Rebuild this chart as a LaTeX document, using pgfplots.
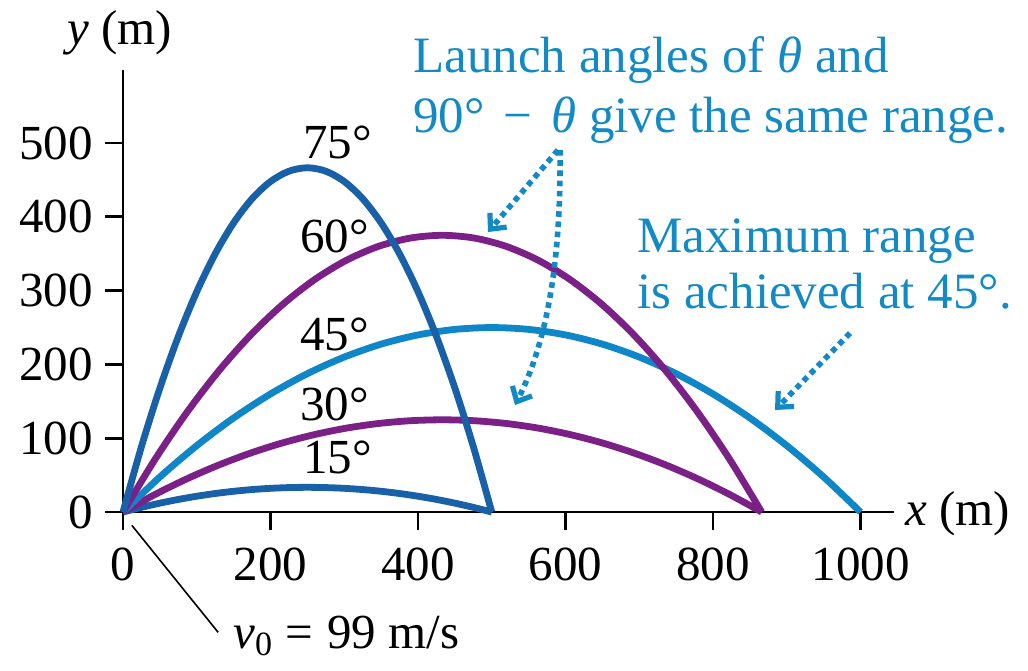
\documentclass[border=0pt]{standalone}
\usepackage{fontspec}
\setmainfont{Liberation Serif}
\usepackage{pgfplots}
\pgfplotsset{compat=1.18}
\usetikzlibrary{arrows.meta}

\definecolor{trajdark}{RGB}{24,96,168}
\definecolor{trajpurple}{RGB}{122,32,134}
\definecolor{trajlight}{RGB}{14,134,200}
\definecolor{notecol}{RGB}{18,138,198}

% trajectories, v0 = 99 m/s, launch angles 15..75 degrees
\pgfplotstableread{
x y
0 0
25 6.36
50 12.06
75 17.08
100 21.43
125 25.12
150 28.13
175 30.48
200 32.15
225 33.16
250 33.49
275 33.16
300 32.15
325 30.48
350 28.13
375 25.12
400 21.43
425 17.08
450 12.06
475 6.36
500 0
}\tabfifteen
\pgfplotstableread{
x y
0 0
43.3 23.75
86.6 45
129.9 63.75
173.2 80
216.5 93.75
259.8 105
303.1 113.75
346.4 120
389.7 123.75
433.0 125
476.3 123.75
519.6 120
562.9 113.75
606.2 105
649.5 93.75
692.8 80
736.1 63.75
779.4 45
822.7 23.75
866.0 0
}\tabthirty
\pgfplotstableread{
x y
0 0
50 47.5
100 90
150 127.5
200 160
250 187.5
300 210
350 227.5
400 240
450 247.5
500 250
550 247.5
600 240
650 227.5
700 210
750 187.5
800 160
850 127.5
900 90
950 47.5
1000 0
}\tabfortyfive
\pgfplotstableread{
x y
0 0
43.3 71.25
86.6 135
129.9 191.25
173.2 240
216.5 281.25
259.8 315
303.1 341.25
346.4 360
389.7 371.25
433.0 375
476.3 371.25
519.6 360
562.9 341.25
606.2 315
649.5 281.25
692.8 240
736.1 191.25
779.4 135
822.7 71.25
866.0 0
}\tabsixty
\pgfplotstableread{
x y
0 0
25 88.64
50 167.94
75 237.92
100 298.56
125 349.88
150 391.86
175 424.52
200 447.84
225 461.84
250 466.5
275 461.84
300 447.84
325 424.52
350 391.86
375 349.88
400 298.56
425 237.92
450 167.94
475 88.64
500 0
}\tabseventyfive

\newcommand{\bigfont}{\fontsize{24.5}{30}\selectfont}
\newcommand{\notefont}{\fontsize{25.5}{30}\selectfont}

\begin{document}
\begin{tikzpicture}
\begin{axis}[
  x=0.36875pt, y=0.369pt,
  xmin=-24, xmax=1045, ymin=0, ymax=599,
  axis lines*=middle,
  axis line style={line width=1.4pt, black},
  hide obscured x ticks=false,
  hide obscured y ticks=false,
  tick align=outside,
  major tick length=9pt,
  tick style={line width=1.4pt, black},
  xtick={0,200,...,1000},
  ytick={0,100,...,500},
  /pgf/number format/assume math mode=true,
  /pgf/number format/1000 sep={},
  ticklabel style={font=\bigfont},
  xticklabel style={yshift=-5.5pt},
  yticklabel style={xshift=-2.5pt},
  clip=false,
]
% fixed page frame
\path (axis cs:-166.8,-214.1) rectangle (axis cs:1227.1,693.8);

\addplot[trajdark,   line width=3.4pt, smooth] table {\tabfifteen};
\addplot[trajpurple, line width=3.4pt, smooth] table {\tabthirty};
\addplot[trajlight,  line width=3.4pt, smooth] table {\tabfortyfive};
\addplot[trajpurple, line width=3.4pt, smooth] table {\tabsixty};
\addplot[trajdark,   line width=3.4pt, smooth] table {\tabseventyfive};

\tikzset{lbl/.style={anchor=base west, inner sep=0pt, font=\bigfont}}

% angle labels
\node[lbl] at (axis cs:244,479.7) {75°};
\node[lbl] at (axis cs:240,351) {60°};
\node[lbl] at (axis cs:240,219.5) {45°};
\node[lbl] at (axis cs:240,124.7) {30°};
\node[lbl] at (axis cs:244,52.8) {15°};

% axis titles
\node[lbl] at (axis cs:-75.9,634) {\textit{y} (m)};
\node[lbl] at (axis cs:1060.3,-17.6) {\textit{x} (m)};

% launch speed
\draw[line width=0.8pt] (axis cs:12,-18) -- (axis cs:129,-163);
\node[lbl] at (axis cs:149,-184.3)
  {\textit{v}\raisebox{-0.35ex}{\fontsize{17}{17}\selectfont 0}\hspace{0.28em}=\hspace{0.28em}99 m/s};

% notes
\tikzset{note/.style={anchor=base west, inner sep=0pt, font=\notefont, text=notecol}}
\node[note] at (axis cs:393.2,594.9) {Launch angles of \textit{θ} and};
\node[note] at (axis cs:393.2,513.6) {90°\hspace{0.12em} − \hspace{0.12em}\textit{θ} give the same range.};
\node[note] at (axis cs:697,351) {Maximum range};
\node[note] at (axis cs:697,276.4) {is achieved at 45°.};

% dotted pointers
\tikzset{pointer/.style={notecol, line width=2.8pt, dash pattern=on 2.8pt off 2.3pt,
  -{Straight Barb[length=6pt, width=11pt, line width=2.6pt]}}}
\draw[pointer] (axis cs:589.8,490.5) -- (axis cs:494.9,379.4);
\draw[pointer] (axis cs:592.5,490.5) .. controls (axis cs:594,360) and (axis cs:580,240) .. (axis cs:531.5,145);
\draw[pointer] (axis cs:985.8,242.5) -- (axis cs:884.1,138.2);
\end{axis}
\end{tikzpicture}
\end{document}
